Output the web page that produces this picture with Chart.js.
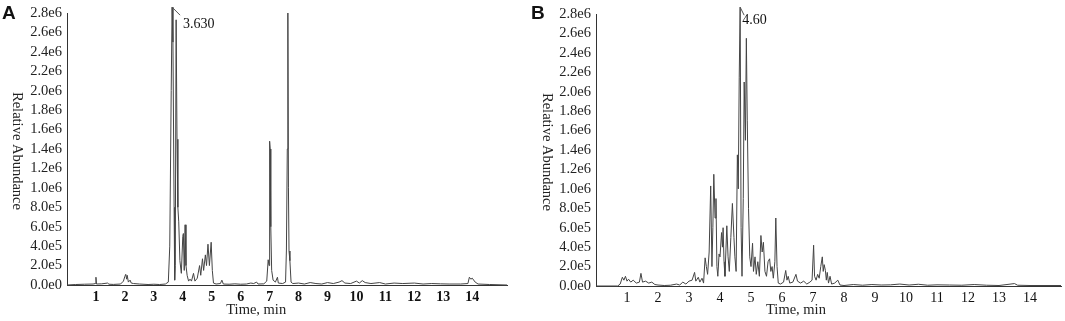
<!DOCTYPE html>
<html>
<head>
<meta charset="utf-8">
<script src="https://cdn.jsdelivr.net/npm/chart.js@4.4.1/dist/chart.umd.min.js"></script>
<style>
  html, body { margin: 0; padding: 0; background: #fff; }
  #wrap { position: relative; width: 1065px; height: 321px; overflow: hidden; }
  #chartA { position: absolute; left: 0; top: 0; }
  #chartB { position: absolute; left: 530px; top: 0; }
</style>
</head>
<body>
<div id="wrap">
  <canvas id="chartA" width="530" height="321"></canvas>
  <canvas id="chartB" width="535" height="321"></canvas>
</div>
<script>
// panel A - total ion chromatogram
const timesA = [
  0.0, 0.3, 0.6, 0.9, 0.98, 1.0, 1.02, 1.2, 1.4, 1.45, 1.6, 1.85, 1.95, 2.0, 2.03, 2.06, 2.08, 2.12, 2.18, 2.22,
  2.3, 2.5, 2.8, 3.0, 3.2, 3.4, 3.45, 3.5, 3.55, 3.6, 3.63, 3.66, 3.7, 3.72, 3.74, 3.77, 3.8, 3.83, 3.86, 3.9,
  3.95, 4.0, 4.02, 4.05, 4.08, 4.11, 4.15, 4.2, 4.25, 4.3, 4.37, 4.42, 4.5, 4.58, 4.62, 4.68, 4.72, 4.78, 4.82, 4.87,
  4.92, 4.98, 5.02, 5.06, 5.15, 5.3, 5.35, 5.4, 5.6, 5.8, 6.0, 6.2, 6.35, 6.45, 6.55, 6.6, 6.8, 6.9, 6.95, 6.98,
  7.0, 7.02, 7.04, 7.07, 7.12, 7.2, 7.27, 7.3, 7.45, 7.55, 7.58, 7.61, 7.63, 7.65, 7.67, 7.7, 7.74, 7.8, 8.0, 8.2,
  8.4, 8.6, 8.8, 9.0, 9.2, 9.4, 9.5, 9.6, 9.8, 10.0, 10.1, 10.2, 10.3, 10.5, 10.8, 11.0, 11.3, 11.6, 12.0, 12.3,
  12.6, 12.9, 13.2, 13.6, 13.85, 13.9, 13.95, 14.0, 14.1, 14.2, 14.6, 15.2
];
const abundanceA = [
  0, 5000, 8000, 10000, 15000, 80000, 10000, 12000, 20000, 8000, 6000, 10000, 40000, 90000, 110000, 60000, 100000, 30000, 50000, 20000,
  15000, 10000, 5000, 8000, 5000, 10000, 20000, 30000, 400000, 2000000, 2860000, 2500000, 800000, 50000, 200000, 2730000, 1500000, 800000, 650000, 250000,
  120000, 500000, 530000, 150000, 620000, 200000, 100000, 40000, 60000, 40000, 120000, 40000, 70000, 200000, 100000, 270000, 150000, 310000, 200000, 420000,
  200000, 440000, 150000, 20000, 10000, 15000, 50000, 10000, 8000, 12000, 8000, 10000, 20000, 15000, 30000, 10000, 12000, 40000, 260000, 200000,
  1480000, 1400000, 600000, 150000, 50000, 30000, 80000, 20000, 15000, 30000, 360000, 1400000, 2800000, 1000000, 350000, 250000, 30000, 15000, 20000, 10000,
  25000, 15000, 10000, 25000, 15000, 30000, 45000, 20000, 15000, 40000, 20000, 45000, 25000, 15000, 25000, 10000, 20000, 15000, 20000, 10000,
  15000, 12000, 10000, 10000, 15000, 80000, 60000, 70000, 30000, 10000, 5000, 0
];

// panel B
const timesB = [
  0.0, 0.7, 0.78, 0.85, 0.9, 0.95, 1.0, 1.05, 1.12, 1.2, 1.3, 1.4, 1.45, 1.5, 1.6, 1.7, 1.8, 1.9, 2.0, 2.2,
  2.4, 2.6, 2.7, 2.8, 2.9, 3.0, 3.1, 3.18, 3.22, 3.3, 3.35, 3.42, 3.47, 3.52, 3.56, 3.6, 3.65, 3.7, 3.74, 3.77,
  3.8, 3.84, 3.87, 3.9, 3.93, 3.97, 4.0, 4.05, 4.08, 4.1, 4.13, 4.16, 4.22, 4.26, 4.3, 4.35, 4.4, 4.45, 4.48, 4.52,
  4.56, 4.59, 4.62, 4.65, 4.68, 4.71, 4.75, 4.78, 4.82, 4.85, 4.88, 4.92, 4.96, 5.0, 5.05, 5.08, 5.13, 5.17, 5.22, 5.27,
  5.32, 5.36, 5.4, 5.45, 5.5, 5.55, 5.6, 5.64, 5.68, 5.72, 5.77, 5.8, 5.84, 5.88, 5.95, 6.05, 6.12, 6.16, 6.2, 6.25,
  6.35, 6.45, 6.5, 6.6, 6.7, 6.8, 6.9, 6.97, 7.02, 7.05, 7.1, 7.15, 7.2, 7.25, 7.3, 7.33, 7.36, 7.4, 7.43, 7.46,
  7.5, 7.55, 7.6, 7.7, 7.8, 7.87, 8.0, 8.3, 8.6, 8.9, 9.2, 9.5, 9.8, 10.1, 10.4, 10.7, 11.0, 11.4, 11.8, 12.2,
  12.6, 13.0, 13.5, 13.6, 14.0, 15.0
];
const abundanceB = [
  0, 0, 20000, 90000, 60000, 100000, 50000, 70000, 40000, 60000, 30000, 40000, 130000, 40000, 50000, 30000, 40000, 15000, 10000, 5000,
  8000, 20000, 10000, 40000, 20000, 50000, 60000, 140000, 50000, 90000, 40000, 80000, 30000, 290000, 200000, 120000, 350000, 1030000, 200000, 600000,
  1150000, 700000, 900000, 200000, 100000, 330000, 300000, 550000, 400000, 600000, 250000, 100000, 620000, 300000, 150000, 500000, 850000, 500000, 300000, 150000,
  1350000, 1000000, 2150000, 2870000, 600000, 100000, 900000, 2100000, 1500000, 2550000, 1700000, 800000, 300000, 200000, 440000, 150000, 300000, 120000, 250000, 100000,
  520000, 350000, 450000, 150000, 100000, 250000, 280000, 150000, 200000, 80000, 250000, 700000, 200000, 30000, 20000, 40000, 160000, 60000, 100000, 30000,
  40000, 120000, 50000, 30000, 50000, 20000, 40000, 60000, 420000, 100000, 60000, 120000, 80000, 200000, 300000, 150000, 220000, 160000, 60000, 140000,
  30000, 100000, 20000, 30000, 60000, 10000, 5000, 15000, 8000, 15000, 10000, 12000, 20000, 10000, 18000, 8000, 12000, 10000, 8000, 15000,
  8000, 5000, 25000, 8000, 5000, 5000
];

const xTickLabels = ["1", "2", "3", "4", "5", "6", "7", "8", "9", "10", "11", "12", "13", "14"];
const yTickLabels = ["0.0e0", "2.0e5", "4.0e5", "6.0e5", "8.0e5", "1.0e6", "1.2e6", "1.4e6", "1.6e6", "1.8e6", "2.0e6", "2.2e6", "2.4e6", "2.6e6", "2.8e6"];
const peakA = { time: 3.63, value: 2860000, label: "3.630" };
const peakB = { time: 4.65, value: 2870000, label: "4.60" };

const SERIF = "'Liberation Serif', 'Times New Roman', serif";

// draws the panel letter, the rotated y title, x title and the peak label
const decor = {
  id: "decor",
  afterDraw(chart, args, o) {
    const { ctx, chartArea, scales } = chart;
    ctx.save();
    ctx.fillStyle = "#111";
    ctx.font = "bold 19px 'Liberation Sans', Arial, sans-serif";
    ctx.textBaseline = "alphabetic";
    ctx.textAlign = "left";
    ctx.fillText(o.letter, o.letterX, 19);

    ctx.font = "14.5px " + SERIF;
    ctx.textAlign = "center";
    ctx.textBaseline = "middle";
    ctx.fillStyle = "#222";
    ctx.fillText("Time, min", chartArea.left + 0.43 * (chartArea.right - chartArea.left), 310);

    ctx.save();
    ctx.translate(17, (chartArea.top + chartArea.bottom) / 2 + 2);
    ctx.rotate(Math.PI / 2);
    ctx.fillText("Relative Abundance", 0, 0);
    ctx.restore();

    const px = scales.x.getPixelForValue(o.peak.time);
    const py = scales.y.getPixelForValue(o.peak.value);
    ctx.strokeStyle = "#555";
    ctx.lineWidth = 1;
    ctx.beginPath();
    ctx.moveTo(px, py);
    ctx.lineTo(px + o.lead[0], py + o.lead[1]);
    ctx.stroke();
    ctx.font = "14px " + SERIF;
    ctx.textAlign = "left";
    ctx.fillStyle = "#111";
    ctx.fillText(o.peak.label, px + o.text[0], py + o.text[1]);
    ctx.restore();
  }
};

function makeChart(id, times, values, cfg) {
  const points = times.map((t, i) => ({ x: t, y: values[i] }));
  return new Chart(document.getElementById(id), {
    type: "line",
    data: {
      datasets: [{
        data: points,
        borderColor: "#444",
        borderWidth: 1,
        pointRadius: 0,
        tension: 0,
        clip: false
      }]
    },
    options: {
      responsive: false,
      animation: false,
      devicePixelRatio: 1,
      layout: { padding: { left: 0, top: cfg.top, right: cfg.right, bottom: 0 } },
      plugins: {
        legend: { display: false },
        tooltip: { enabled: false },
        decor: { letter: cfg.letter, letterX: cfg.letterX, peak: cfg.peak, lead: cfg.lead, text: cfg.text }
      },
      scales: {
        x: {
          type: "linear",
          min: 0,
          max: cfg.xMax,
          grid: { display: false, drawTicks: false },
          border: { display: true, color: "#333", width: 1 },
          ticks: {
            stepSize: 1,
            padding: 4,
            autoSkip: false,
            maxRotation: 0,
            color: "#111",
            font: { family: SERIF, size: 14, weight: cfg.xWeight },
            callback: (v) => xTickLabels[v - 1] || ""
          },
          afterFit: (s) => { s.height = 321 - cfg.bottom; }
        },
        y: {
          min: 0,
          max: 2800000,
          grid: { display: false, drawTicks: false },
          border: { display: true, color: "#333", width: 1 },
          ticks: {
            stepSize: 200000,
            padding: 5,
            autoSkip: false,
            color: "#222",
            font: { family: SERIF, size: 14.5, lineHeight: 1 },
            callback: (v) => yTickLabels[Math.round(v / 200000)]
          },
          afterFit: (s) => { s.width = cfg.left; }
        }
      }
    },
    plugins: [decor]
  });
}

makeChart("chartA", timesA, abundanceA, {
  letter: "A", letterX: 2, top: 13, bottom: 285, left: 67, right: 23, xMax: 15.2,
  xWeight: "bold", peak: peakA, lead: [8, 8], text: [11, 17]
});
makeChart("chartB", timesB, abundanceB, {
  letter: "B", letterX: 1, top: 14, bottom: 286, left: 66, right: 3, xMax: 15.0,
  xWeight: "normal", peak: peakB, lead: [4, 8], text: [2, 13]
});
</script>
</body>
</html>
